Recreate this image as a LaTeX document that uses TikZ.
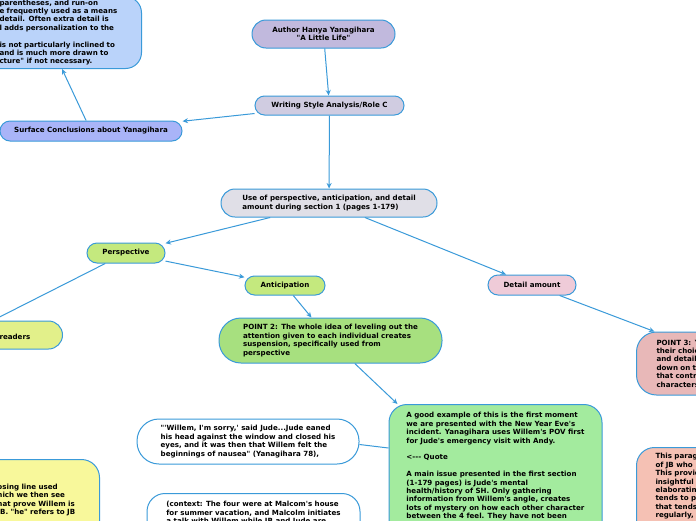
\documentclass[tikz,border=0pt]{standalone}
\usepackage{fontspec}
\usepackage{tikz}
\usetikzlibrary{arrows.meta, positioning}

\newfontfamily\mapfont{DejaVu Sans}

\definecolor{mapblue}{HTML}{3A9AD9}
\definecolor{authorfill}{HTML}{C1B9DD}
\definecolor{stylefill}{HTML}{D0CCE1}
\definecolor{surffill}{HTML}{A9B4F8}
\definecolor{notefill}{HTML}{BAD3FA}
\definecolor{usefill}{HTML}{E0DFE7}
\definecolor{leaffill}{HTML}{C4E97E}
\definecolor{detailfill}{HTML}{EFCBD8}
\definecolor{readfill}{HTML}{E2F08A}
\definecolor{pointfill}{HTML}{A7E07F}
\definecolor{threefill}{HTML}{E8B8B8}
\definecolor{examplefill}{HTML}{A3EB9E}
\definecolor{closefill}{HTML}{F8F89B}
\definecolor{parafill}{HTML}{F5C1B4}

\begin{document}
\begin{tikzpicture}[
            x=1pt, y=-1pt,
            every node/.style={font=\mapfont\bfseries\fontsize{7.1}{8.4}\selectfont},
            topic/.style={draw=mapblue, line width=1pt, align=left, inner sep=0pt},
            link/.style={draw=mapblue, line width=1pt, -{Stealth[length=5.5pt, width=5pt]}}
        ]

        \useasboundingbox (0,0) rectangle (696,520);
        \fill[white] (0,0) rectangle (696,520);
        \clip (0,0) rectangle (696,520);

        \node[topic, fill=authorfill, align=center, rounded corners=14pt, minimum width=143pt, minimum height=28pt] (author) at (323.5,34) {Author Hanya Yanagihara\\"A Little Life"};
        \node[topic, fill=stylefill, rounded corners=9.5pt, minimum width=149pt, minimum height=19pt] (style) at (329.5,105.5) {Writing Style Analysis/Role C};
        \node[topic, fill=surffill, rounded corners=10pt, minimum width=182pt, minimum height=20pt] (surface) at (91,131) {Surface Conclusions about Yanagihara};

        \node[topic, fill=notefill, rounded corners=16pt, anchor=south west, text width=122pt, inner xsep=20pt, inner ysep=3pt] (notes) at (-21,69) {parentheses, and run-on\\
            e frequently used as a means\\
            detail. Often extra detail is\\
            l adds personalization to the\\[8.4pt]
            is not particularly inclined to\\
            and is much more drawn to\\
            cture" if not necessary.};

        \node[topic, fill=usefill, rounded corners=14pt, minimum width=216pt, minimum height=28pt] (use) at (329,203) {Use of perspective, anticipation, and detail\\amount during section 1 (pages 1-179)};

        \node[topic, fill=leaffill, rounded corners=10pt, minimum width=78pt, minimum height=20pt] (persp) at (126,253) {Perspective};
        \node[topic, fill=leaffill, rounded corners=9.5pt, minimum width=80pt, minimum height=19pt] (antic) at (285,285.5) {Anticipation};
        \node[topic, fill=detailfill, rounded corners=10pt, minimum width=88pt, minimum height=20pt] (detail) at (532,285) {Detail amount};

        \node[topic, fill=readfill, rounded corners=14pt, anchor=east, text width=43pt, inner xsep=20pt, minimum height=28pt] (readers) at (63,335) {\mbox{}\\readers};
        \coordinate (readersin) at (-36,335);

        \node[topic, fill=pointfill, rounded corners=22pt, minimum width=223pt, minimum height=45pt] (point2) at (330.5,340.5) {POINT 2: The whole idea of leveling out the\\
            attention given to each individual creates\\
            suspension, specifically used from\\
            perspective};

        \node[topic, fill=threefill, rounded corners=20pt, anchor=west, text width=164pt, inner xsep=20pt, minimum height=63pt] (point3) at (636,363.5) {POINT 3: Y\\
            their choic\\
            and detaile\\
            down on th\\
            that contri\\
            characters};

        \node[topic, fill=examplefill, rounded corners=18pt, anchor=north, minimum width=213pt, inner ysep=8pt] (example) at (495.5,404) {A good example of this is the first moment\\
            we are presented with the New Year Eve's\\
            incident. Yanagihara uses Willem's POV first\\
            for Jude's emergency visit with Andy.\\[8.4pt]
            <-{}-{}- Quote\\[8.4pt]
            A main issue presented in the first section\\
            (1-179 pages) is Jude's mental\\
            health/history of SH. Only gathering\\
            information from Willem's angle, creates\\
            lots of mystery on how each other character\\
            between the 4 feel. They have not been\\[30pt]
            \mbox{}};

        \node[topic, fill=white, rounded corners=22pt, minimum width=222pt, minimum height=45pt] (quote) at (248,441.5) {"'Willem, I'm sorry,' said Jude...Jude eaned\\
            his head against the window and closed his\\
            eyes, and it was then that Willem felt the\\
            beginnings of nausea" (Yanagihara 78),};

        \node[topic, fill=white, rounded corners=18pt, anchor=north, minimum width=213pt, inner ysep=8pt] (context) at (253.5,493) {(context: The four were at Malcom's house\\
            for summer vacation, and Malcolm initiates\\
            a talk with Willem while JB and Jude are\\[30pt]
            \mbox{}};

        \node[topic, fill=closefill, rounded corners=18pt, anchor=north east, text width=82pt, inner xsep=20pt, inner ysep=6pt] (closing) at (100,459) {\mbox{}\\[15.4pt]
            osing line used\\
            hich we then see\\
            hat prove Willem is\\
            JB. "he" refers to JB\\[30pt]
            \mbox{}};

        \node[topic, fill=parafill, rounded corners=18pt, anchor=north west, text width=160pt, inner xsep=19pt, inner ysep=6pt] (para) at (636,447) {This parag\\
            of JB who\\
            This provid\\
            insightful s\\
            elaboratin\\
            tends to pr\\
            that tends\\
            regularly,\\[20pt]
            \mbox{}};

        % links
        \draw[link] (author) -- (style);
        \draw[link] (style) -- (use);
        \draw[link] (style) -- (surface);
        \draw[link] (surface) -- ([xshift=83pt]notes.south west);
        \draw[link] (use) -- (persp);
        \draw[link] (use) -- (detail);
        \draw[link] (persp) -- (antic);
        \draw[link] (persp) -- (readersin);
        \draw[link] (antic) -- (point2);
        \draw[link] (detail) -- (point3);
        \draw[link] (point2) -- ([xshift=9pt]example.north west);
        \draw[mapblue, line width=1pt] ([yshift=-3pt]quote.east) -- ([yshift=-44pt]example.north west);

    \end{tikzpicture}
\end{document}
